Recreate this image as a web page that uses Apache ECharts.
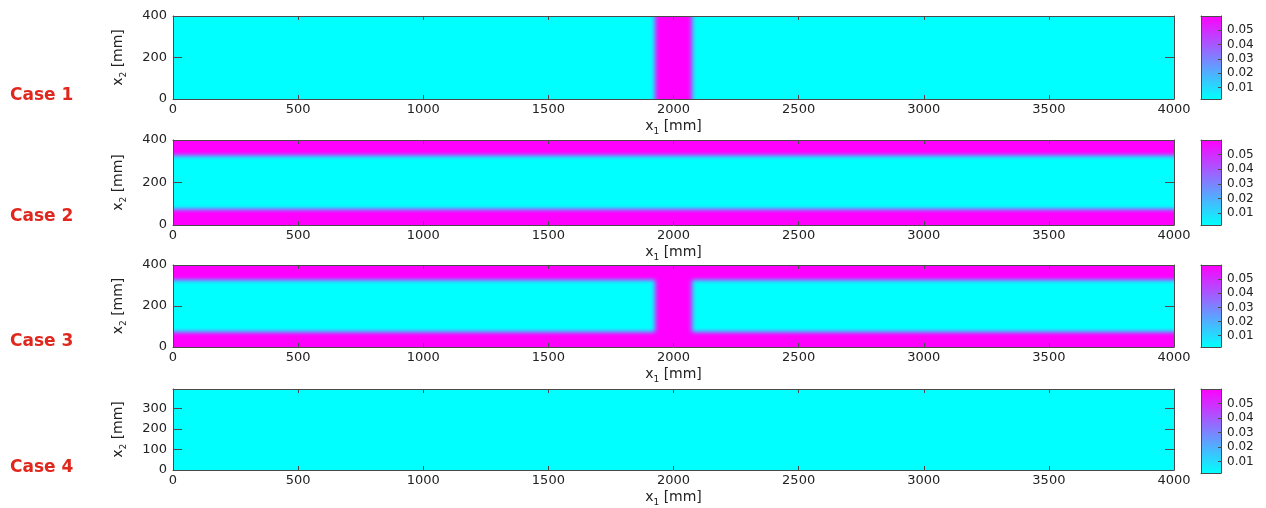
<!DOCTYPE html>
<html>
<head>
<meta charset="utf-8">
<script src="https://cdn.jsdelivr.net/npm/echarts@6/dist/echarts.min.js"></script>
<style>html,body{margin:0;padding:0;background:#fff;}#c{width:1266px;height:508px;}</style>
</head>
<body>
<div id="c"></div>
<script>
// ---- data ----
const caseNames = ['Case 1', 'Case 2', 'Case 3', 'Case 4'];
const xTicks = [0, 500, 1000, 1500, 2000, 2500, 3000, 3500, 4000];
const x2MaxPerCase = [400, 400, 400, 394];
const yTicksCase123 = [0, 200, 400];
const yTicksCase4 = [0, 100, 200, 300];
const cbTicks = [0.01, 0.02, 0.03, 0.04, 0.05];
const cMin = 0.002;
const cMax = 0.06;
const backgroundValue = 0.002;
// vertical band around x1 = 2000 (cases 1 and 3): positions [mm] and values
const bandX1Pos = [1906, 1914, 1921, 1928, 1935, 1946, 2054, 2065, 2072, 2079, 2086, 2094];
const bandX1Val = [0.002, 0.007, 0.019, 0.036, 0.051, 0.06, 0.06, 0.051, 0.036, 0.019, 0.007, 0.002];
// edge bands along x2 (cases 2 and 3): positions [mm] and values
const bandX2Pos = [0, 54, 63, 71, 79, 87, 97, 303, 313, 321, 329, 337, 346, 400];
const bandX2Val = [0.06, 0.06, 0.051, 0.036, 0.019, 0.007, 0.002, 0.002, 0.007, 0.019, 0.036, 0.051, 0.06, 0.06];
const caseHasX1Band = [true, false, true, false];
const caseHasX2Band = [false, true, true, false];

// ---- layout ----
const FONT = 'DejaVu Sans';
const panelTop = [16, 140, 265, 389];
const panelH = [83, 85, 82, 84];
const caseLabelY = [96, 217, 342, 468];
const plotLeft = 173, plotW = 1001;
const cbLeft = 1201, cbW = 20;
const axisColor = '#4a4a4a';
const labelColor = '#222';
const AXZ = 10;

function frac(v) { return Math.max(0, Math.min(1, (v - cMin) / (cMax - cMin))); }
function coolColor(v) { const a = frac(v); return 'rgb(' + Math.round(255 * a) + ',' + Math.round(255 * (1 - a)) + ',255)'; }
function overlay(v) { return 'rgba(255,0,255,' + frac(v).toFixed(4) + ')'; }

const x1Min = xTicks[0], x1Max = xTicks[xTicks.length - 1];
const grids = [], xAxes = [], yAxes = [], series = [], graphics = [];

const nameRich = {
  i: { fontSize: 14, fontFamily: FONT, color: labelColor, lineHeight: 19 },
  s: { fontSize: 9, fontFamily: FONT, color: labelColor, lineHeight: 10, verticalAlign: 'bottom' }
};

function makeRender(yMax) {
  return function (params, api) {
    const kind = api.value(0), s = api.value(1), e = api.value(2);
    let p0, p1, fill;
    if (kind === 0) {
      p0 = api.coord([s, yMax]); p1 = api.coord([e, 0]);
      fill = coolColor(backgroundValue);
    } else if (kind === 1) {
      p0 = api.coord([s, yMax]); p1 = api.coord([e, 0]);
      fill = { type: 'linear', x: 0, y: 0, x2: 1, y2: 0,
        colorStops: bandX1Pos.map((p, k) => ({ offset: (p - s) / (e - s), color: overlay(bandX1Val[k]) })) };
    } else {
      p0 = api.coord([x1Min, e]); p1 = api.coord([x1Max, s]);
      const stops = bandX2Pos.map((p, k) => ({ offset: (e - p) / (e - s), color: overlay(bandX2Val[k]) }));
      stops.sort((a, b) => a.offset - b.offset);
      fill = { type: 'linear', x: 0, y: 0, x2: 0, y2: 1, colorStops: stops };
    }
    return { type: 'rect', shape: { x: p0[0], y: p0[1], width: p1[0] - p0[0], height: p1[1] - p0[1] }, style: { fill: fill } };
  };
}

for (let i = 0; i < 4; i++) {
  const yMax = x2MaxPerCase[i];
  const yTicks = i === 3 ? yTicksCase4 : yTicksCase123;
  const g = grids.length;
  grids.push({ left: plotLeft, top: panelTop[i], width: plotW, height: panelH[i], containLabel: false });
  const xb = xAxes.length;
  xAxes.push({
    gridIndex: g, type: 'value', min: x1Min, max: x1Max, position: 'bottom', z: AXZ,
    axisLine: { onZero: false, lineStyle: { color: axisColor, width: 1 } },
    axisTick: { inside: true, length: 4, customValues: xTicks, lineStyle: { color: axisColor } },
    axisLabel: { customValues: xTicks, fontSize: 13, fontFamily: FONT, color: labelColor, margin: 4, formatter: v => String(v) },
    splitLine: { show: false },
    name: '{i|x}{s|1}{i| [mm]}', nameLocation: 'middle', nameGap: 18,
    nameTextStyle: { rich: nameRich }
  });
  xAxes.push({
    gridIndex: g, type: 'value', min: x1Min, max: x1Max, position: 'top', z: AXZ,
    axisLine: { onZero: false, lineStyle: { color: axisColor, width: 1 } },
    axisTick: { inside: true, length: 4, customValues: xTicks, lineStyle: { color: axisColor } },
    axisLabel: { show: false }, splitLine: { show: false }
  });
  const yl = yAxes.length;
  yAxes.push({
    gridIndex: g, type: 'value', min: 0, max: yMax, position: 'left', z: AXZ,
    axisLine: { onZero: false, lineStyle: { color: axisColor, width: 1 } },
    axisTick: { inside: true, length: 9, customValues: yTicks, lineStyle: { color: axisColor } },
    axisLabel: { customValues: yTicks, fontSize: 13, fontFamily: FONT, color: labelColor, margin: 6, formatter: v => String(v) },
    splitLine: { show: false },
    name: '{i|x}{s|2}{i| [mm]}', nameLocation: 'middle', nameGap: 45, nameRotate: 90,
    nameTextStyle: { rich: nameRich }
  });
  yAxes.push({
    gridIndex: g, type: 'value', min: 0, max: yMax, position: 'right', z: AXZ,
    axisLine: { onZero: false, lineStyle: { color: axisColor, width: 1 } },
    axisTick: { inside: true, length: 9, customValues: yTicks, lineStyle: { color: axisColor } },
    axisLabel: { show: false }, splitLine: { show: false }
  });
  const rows = [[0, x1Min, x1Max]];
  if (caseHasX2Band[i]) rows.push([2, bandX2Pos[0], bandX2Pos[bandX2Pos.length - 1]]);
  if (caseHasX1Band[i]) rows.push([1, bandX1Pos[0], bandX1Pos[bandX1Pos.length - 1]]);
  series.push({
    type: 'custom', xAxisIndex: xb, yAxisIndex: yl, clip: true, silent: true,
    renderItem: makeRender(yMax), data: rows, z: 1
  });

  // colorbar
  const gc = grids.length;
  grids.push({ left: cbLeft, top: panelTop[i], width: cbW, height: panelH[i], containLabel: false });
  const cxb = xAxes.length;
  xAxes.push({ gridIndex: gc, type: 'value', min: 0, max: 1, position: 'bottom', z: AXZ,
    axisLine: { onZero: false, lineStyle: { color: axisColor } }, axisTick: { show: false }, axisLabel: { show: false }, splitLine: { show: false } });
  xAxes.push({ gridIndex: gc, type: 'value', min: 0, max: 1, position: 'top', z: AXZ,
    axisLine: { onZero: false, lineStyle: { color: axisColor } }, axisTick: { show: false }, axisLabel: { show: false }, splitLine: { show: false } });
  const cyr = yAxes.length;
  yAxes.push({ gridIndex: gc, type: 'value', min: cMin, max: cMax, position: 'right', z: AXZ,
    axisLine: { onZero: false, lineStyle: { color: axisColor } },
    axisTick: { inside: true, length: 3, customValues: cbTicks, lineStyle: { color: axisColor } },
    axisLabel: { customValues: cbTicks, fontSize: 12, fontFamily: FONT, color: labelColor, margin: 6,
      formatter: v => v.toFixed(2) },
    splitLine: { show: false } });
  yAxes.push({ gridIndex: gc, type: 'value', min: cMin, max: cMax, position: 'left', z: AXZ,
    axisLine: { onZero: false, lineStyle: { color: axisColor } }, axisTick: { show: false }, axisLabel: { show: false }, splitLine: { show: false } });
  series.push({
    type: 'custom', xAxisIndex: cxb, yAxisIndex: cyr, clip: true, silent: true, z: 1,
    data: [[0, 1, cMin, cMax]],
    renderItem: function (params, api) {
      const p0 = api.coord([api.value(0), api.value(3)]);
      const p1 = api.coord([api.value(1), api.value(2)]);
      return { type: 'rect', shape: { x: p0[0], y: p0[1], width: p1[0] - p0[0], height: p1[1] - p0[1] },
        style: { fill: { type: 'linear', x: 0, y: 0, x2: 0, y2: 1,
          colorStops: [{ offset: 0, color: coolColor(api.value(3)) }, { offset: 1, color: coolColor(api.value(2)) }] } } };
    }
  });

  graphics.push({ type: 'text', x: 10, y: caseLabelY[i],
    style: { text: caseNames[i], fill: '#e0271d', font: 'bold 17px "' + FONT + '"', verticalAlign: 'middle', align: 'left' } });
}

const chart = echarts.init(document.getElementById('c'), null, { renderer: 'canvas' });
chart.setOption({
  animation: false,
  backgroundColor: '#ffffff',
  grid: grids, xAxis: xAxes, yAxis: yAxes, series: series, graphic: graphics
});
</script>
</body>
</html>
